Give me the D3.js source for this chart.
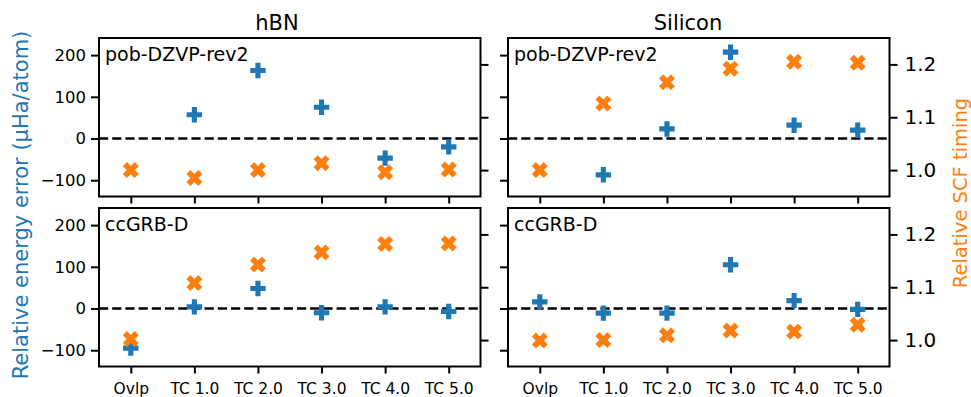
<!DOCTYPE html>
<html>
<head>
<meta charset="utf-8">
<script src="https://cdn.jsdelivr.net/npm/d3@7"></script>
<style>
  body { margin: 0; background: #fff; }
  svg { font-family: "DejaVu Sans", sans-serif; }
</style>
</head>
<body>
<div id="chart"></div>
<script>
// Data
const categories = ['Ovlp', 'TC 1.0', 'TC 2.0', 'TC 3.0', 'TC 4.0', 'TC 5.0'];
const systems = ['hBN', 'Silicon'];
const basisSets = ['pob-DZVP-rev2', 'ccGRB-D'];

// relative energy error (uHa/atom); null where no point is visible
const energyHbnPob = [null, 57, 163, 75, -47, -20];
const energySiPob = [null, -87, 23, 207, 32, 20];
const energyHbnGrb = [-95, 4, 48, -10, 4, -7];
const energySiGrb = [16, -11, -11, 105, 19, -2];

// relative SCF timing
const timingHbnPob = [1.0, 0.985, 1.0, 1.013, 0.996, 1.001];
const timingSiPob = [1.0, 1.126, 1.166, 1.192, 1.205, 1.203];
const timingHbnGrb = [1.002, 1.108, 1.143, 1.166, 1.182, 1.183];
const timingSiGrb = [0.999, 1.0, 1.009, 1.018, 1.016, 1.029];

const energyTicks = [-100, 0, 100, 200];
const timingTicks = [1.0, 1.1, 1.2];

const panels = [
  { row: 0, col: 0, energy: energyHbnPob, timing: timingHbnPob },
  { row: 0, col: 1, energy: energySiPob, timing: timingSiPob },
  { row: 1, col: 0, energy: energyHbnGrb, timing: timingHbnGrb },
  { row: 1, col: 1, energy: energySiGrb, timing: timingSiGrb }
];

const blue = '#1f77b4';
const orange = '#ff7f0e';

const svgWidth = 971, svgHeight = 397;
const colX = [99, 508];
const rowY = [38, 208];
const plotW = 381.5, plotH = 158.5;

const svg = d3.select('#chart')
  .append('svg')
  .attr('width', svgWidth)
  .attr('height', svgHeight);

let x = d3.scalePoint().domain(categories).range([0, plotW]).padding(0.5);
let yE = d3.scaleLinear().domain([-139, 241]).range([plotH, 0]);
let yT = d3.scaleLinear().domain([0.95, 1.25]).range([plotH, 0]);

// filled plus ('P') and filled x ('X') marker paths
const s = 7.7, a = s / 3;
const plusPts = [[-a, -s], [a, -s], [a, -a], [s, -a], [s, a], [a, a], [a, s], [-a, s], [-a, a], [-s, a], [-s, -a], [-a, -a]];
const plusPath = 'M' + plusPts.map(p => p.join(',')).join('L') + 'Z';
const s2 = 8.4, a2 = s2 / 2.9, c = Math.SQRT1_2;
const xPts = [[-a2, -s2], [a2, -s2], [a2, -a2], [s2, -a2], [s2, a2], [a2, a2], [a2, s2], [-a2, s2], [-a2, a2], [-s2, a2], [-s2, -a2], [-a2, -a2]]
  .map(p => [(p[0] - p[1]) * c, (p[0] + p[1]) * c]);
const xPath = 'M' + xPts.map(p => p[0].toFixed(2) + ',' + p[1].toFixed(2)).join('L') + 'Z';

function styleAxis(g, fontSize) {
  g.select('.domain').remove();
  g.selectAll('.tick line').attr('stroke', '#000').attr('stroke-width', 2);
  g.selectAll('.tick text').attr('fill', '#000').style('font-size', fontSize + 'px')
    .style('font-family', '"DejaVu Sans", sans-serif');
}

panels.forEach(p => {
  const g = svg.append('g')
    .attr('transform', 'translate(' + colX[p.col] + ',' + rowY[p.row] + ')');

  // zero line
  g.append('line')
    .attr('x1', 0).attr('x2', plotW)
    .attr('y1', yE(0)).attr('y2', yE(0))
    .attr('stroke', '#000')
    .attr('stroke-width', 2.6)
    .attr('stroke-dasharray', '9.2,4');

  // energy points
  g.selectAll('.e')
    .data(p.energy.map((v, i) => ({ cat: categories[i], v: v })).filter(d => d.v !== null))
    .enter().append('path')
    .attr('d', plusPath)
    .attr('transform', d => 'translate(' + x(d.cat) + ',' + yE(d.v) + ')')
    .attr('fill', blue);

  // timing points
  g.selectAll('.t')
    .data(p.timing)
    .enter().append('path')
    .attr('d', xPath)
    .attr('transform', (d, i) => 'translate(' + x(categories[i]) + ',' + yT(d) + ')')
    .attr('fill', orange);

  // frame
  g.append('rect')
    .attr('width', plotW).attr('height', plotH)
    .attr('fill', 'none').attr('stroke', '#000').attr('stroke-width', 2);

  // x axis
  g.append('g')
    .attr('transform', 'translate(0,' + plotH + ')')
    .call(d3.axisBottom(x).tickSize(7).tickPadding(9)
      .tickFormat(p.row === 1 ? d => d : () => ''))
    .call(ax => styleAxis(ax, 15.5));

  // left axis (energy)
  g.append('g')
    .call(d3.axisLeft(yE).tickValues(energyTicks).tickSize(8).tickPadding(5)
      .tickFormat(p.col === 0 ? d => (d < 0 ? '\u2212' + Math.abs(d) : d) : () => ''))
    .call(ax => styleAxis(ax, 16.5));

  // right axis (timing)
  g.append('g')
    .attr('transform', 'translate(' + plotW + ',0)')
    .call(d3.axisRight(yT).tickValues(timingTicks).tickSize(8).tickPadding(7)
      .tickFormat(p.col === 1 ? d3.format('.1f') : () => ''))
    .call(ax => styleAxis(ax, 20));

  // basis set label
  g.append('text')
    .attr('x', 6).attr('y', 22.5)
    .style('font-size', '19px')
    .text(basisSets[p.row]);
});

// column titles
svg.selectAll('.title')
  .data(systems)
  .enter().append('text')
  .attr('x', (d, i) => [277, 688][i])
  .attr('y', 30)
  .attr('text-anchor', 'middle')
  .style('font-size', '21px')
  .text(d => d);

// axis labels
svg.append('text')
  .attr('transform', 'translate(21,205) rotate(-90)')
  .attr('text-anchor', 'middle')
  .attr('dominant-baseline', 'central')
  .attr('fill', blue)
  .style('font-size', '21px')
  .text('Relative energy error (\u03bcHa/atom)');

svg.append('text')
  .attr('transform', 'translate(960,193) rotate(-90)')
  .attr('text-anchor', 'middle')
  .attr('dominant-baseline', 'central')
  .attr('fill', orange)
  .style('font-size', '19.5px')
  .text('Relative SCF timing');
</script>
</body>
</html>
